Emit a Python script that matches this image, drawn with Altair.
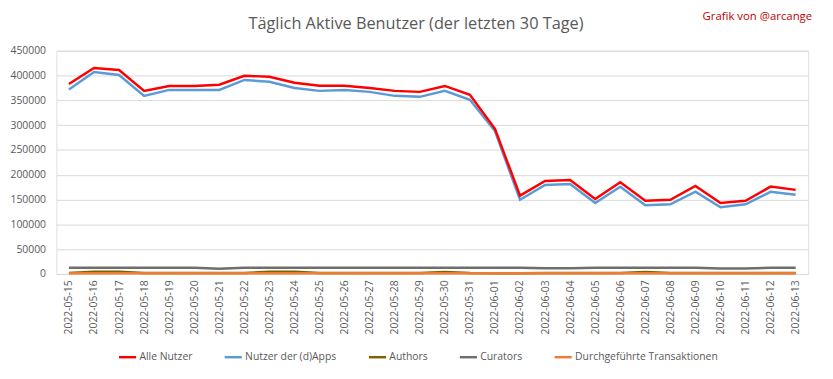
import altair as alt
import pandas as pd

dates = ["2022-05-15","2022-05-16","2022-05-17","2022-05-18","2022-05-19","2022-05-20",
         "2022-05-21","2022-05-22","2022-05-23","2022-05-24","2022-05-25","2022-05-26",
         "2022-05-27","2022-05-28","2022-05-29","2022-05-30","2022-05-31","2022-06-01",
         "2022-06-02","2022-06-03","2022-06-04","2022-06-05","2022-06-06","2022-06-07",
         "2022-06-08","2022-06-09","2022-06-10","2022-06-11","2022-06-12","2022-06-13"]

alle_nutzer = [383000, 415000, 411000, 369000, 379000, 379000, 381500, 399500, 397500, 385500,
               379500, 379500, 375000, 369000, 367000, 379000, 361000, 292500, 158000, 187500,
               189500, 151000, 185000, 147500, 149500, 177500, 143000, 147500, 176000, 169500]

nutzer_dapps = [372000, 407000, 401000, 359000, 371000, 371000, 371000, 391000, 387500, 375000,
                369000, 371000, 367000, 359000, 357000, 369000, 351000, 288000, 149500, 179500,
                181500, 143000, 176000, 138500, 140500, 166000, 134500, 140500, 165500, 159500]

authors = [1800, 4500, 4500, 1800, 1800, 1800, 1800, 1800, 4500, 4300,
           1800, 1800, 1800, 1800, 1800, 3800, 1800, 1500, 1500, 1800,
           1800, 1800, 1800, 4000, 1800, 1800, 1800, 1800, 1800, 1800]

curators = [12500, 12500, 12500, 12500, 12500, 12500, 10500, 12500, 12500, 12500,
            12500, 12500, 12500, 12500, 12500, 12500, 12500, 12500, 12500, 11500,
            11500, 12500, 12500, 12500, 12500, 12500, 11000, 11000, 12500, 12500]

transaktionen = [1500] * 30

series_names = ["Alle Nutzer", "Nutzer der (d)Apps", "Authors", "Curators",
                "Durchgeführte Transaktionen"]
series_colors = ["#FF0000", "#5B9BD5", "#806000", "#6E6E6E", "#ED7D31"]
series_values = [alle_nutzer, nutzer_dapps, authors, curators, transaktionen]
y_ticks = list(range(0, 450001, 50000))
title_text = "Täglich Aktive Benutzer (der letzten 30 Tage)"
credit_text = "Grafik von @arcange"

rows = []
for name, vals in zip(series_names, series_values):
    for d, v in zip(dates, vals):
        rows.append({"Datum": d, "Wert": v, "Serie": name})
df = pd.DataFrame(rows)

font = "Open Sans"
color_scale = alt.Scale(domain=series_names, range=series_colors)

x_enc = alt.X("Datum:O", title=None, sort=dates,
              axis=alt.Axis(labelAngle=-90, labelFontSize=10.5, labelColor="#595959",
                            labelFont=font, ticks=False, domain=False, labelPadding=6))
y_enc = alt.Y("Wert:Q", title=None, scale=alt.Scale(domain=[0, 450000], nice=False),
              axis=alt.Axis(values=y_ticks, format="d", labelFontSize=10.5,
                            labelColor="#595959", labelFont=font, ticks=False,
                            domain=False, gridColor="#D9D9D9", gridWidth=1,
                            labelPadding=11))

layers = []
for name in ["Curators", "Authors", "Durchgeführte Transaktionen", "Nutzer der (d)Apps", "Alle Nutzer"]:
    layers.append(
        alt.Chart(df).transform_filter(alt.datum.Serie == name)
        .mark_line(strokeWidth=2.5)
        .encode(
            x=x_enc, y=y_enc,
            color=alt.Color("Serie:N", scale=color_scale,
                            legend=alt.Legend(title=None, orient="none", direction="horizontal",
                                              legendX=62, legendY=300,
                                              symbolType="stroke", symbolSize=300,
                                              symbolStrokeWidth=2.5, labelFont=font,
                                              labelFontSize=10.5, labelColor="#595959",
                                              labelOffset=2, columnPadding=27,
                                              values=series_names))
        )
    )

credit = alt.Chart(pd.DataFrame({"t": [credit_text]})).mark_text(
    align="right", baseline="middle", font=font, fontSize=11.5, color="#C00000"
).encode(text="t:N", x=alt.value(765), y=alt.value(-34))

title = alt.Chart(pd.DataFrame({"t": [title_text]})).mark_text(
    align="center", baseline="middle", font=font, fontSize=16.5, color="#595959"
).encode(text="t:N", x=alt.value(364), y=alt.value(-27))

chart = alt.layer(*layers, credit, title).properties(
    width=761, height=226,
    autosize=alt.AutoSizeParams(type="none"),
    padding={"left": 49, "top": 41, "right": 17, "bottom": 96},
).configure_view(stroke=None).configure(background="white")

chart.save("out.html", embed_options={"renderer": "svg", "actions": False})
